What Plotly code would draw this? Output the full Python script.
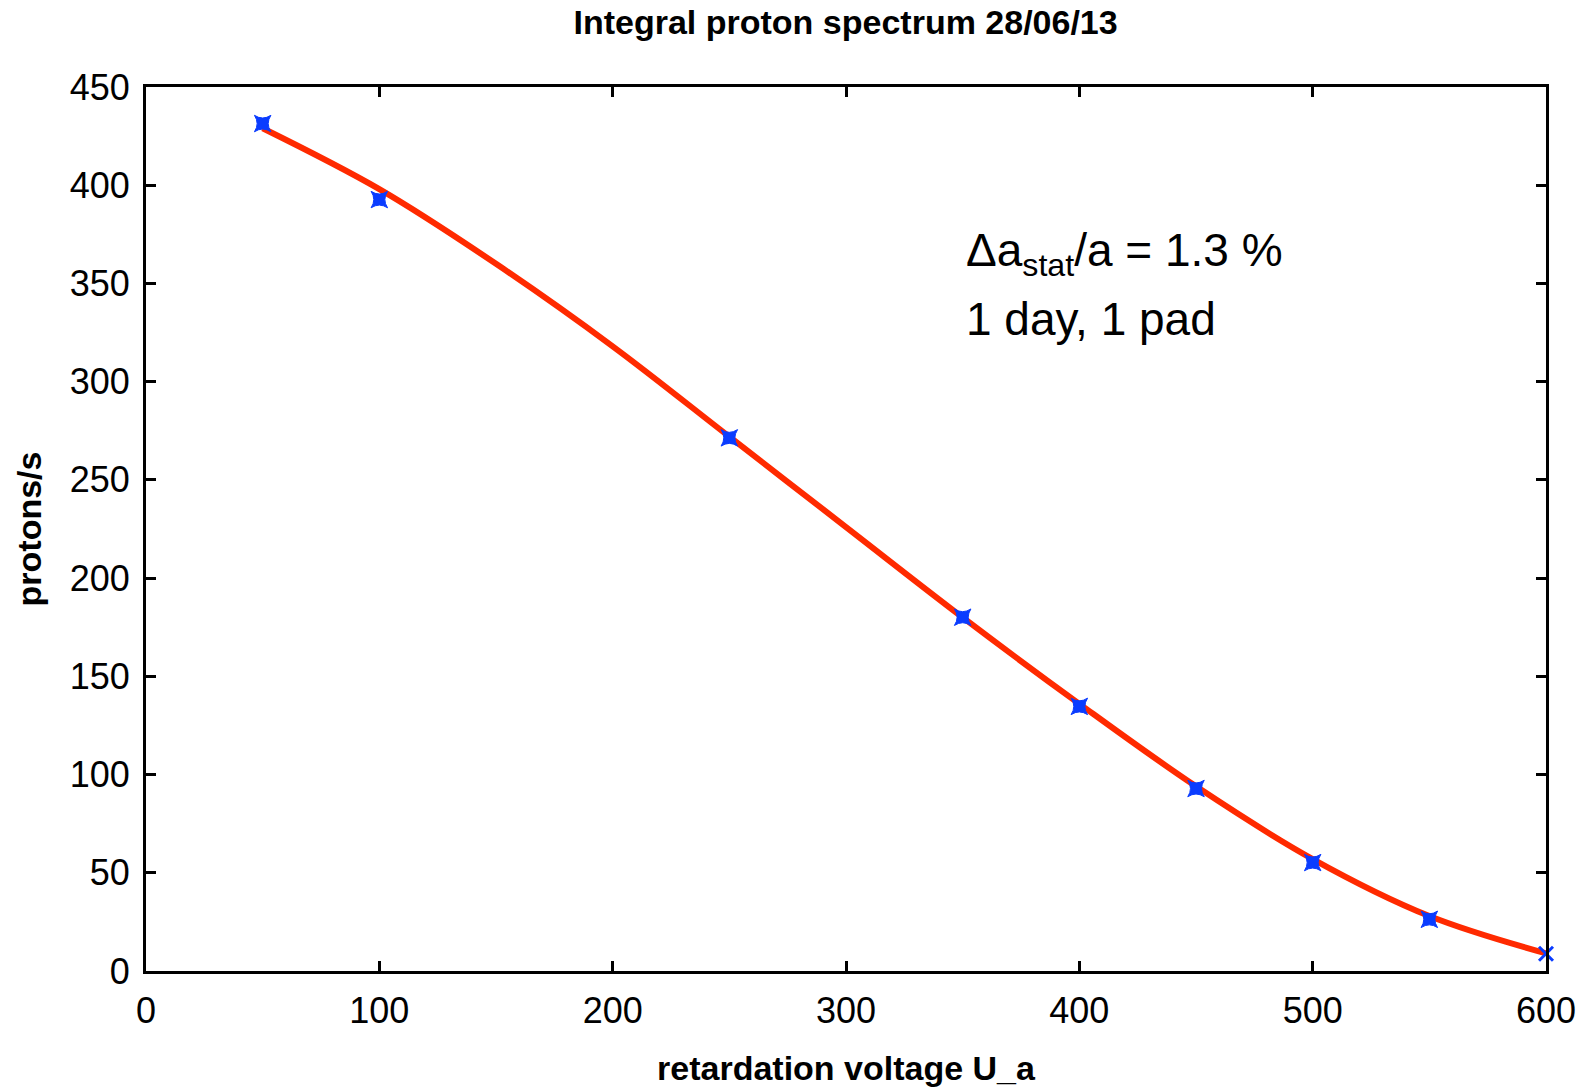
import plotly.graph_objects as go

# measured integral spectrum
voltage = [50, 100, 250, 350, 400, 450, 500, 550]
rate = [431.4, 392.7, 271.4, 180.1, 134.7, 92.9, 55.2, 26.3]

# last point (no error bar)
voltage_last = [600]
rate_last = [8.8]

# fitted curve
fit_voltage = [50, 100, 150, 200, 250, 300, 350, 400, 450, 500, 550, 600]
fit_rate = [429, 398, 360, 318, 272, 226, 180, 136, 94, 57, 28, 9]

x_ticks = [0, 100, 200, 300, 400, 500, 600]
y_ticks = [0, 50, 100, 150, 200, 250, 300, 350, 400, 450]

FONT = "Liberation Sans, Arial, Helvetica, sans-serif"

fig = go.Figure()
fig.add_trace(go.Scatter(
    x=fit_voltage, y=fit_rate, mode="lines",
    line=dict(color="#ff2a00", width=6, shape="spline", smoothing=1.0),
    hoverinfo="skip", showlegend=False, cliponaxis=False,
))
fig.add_trace(go.Scatter(
    x=voltage, y=rate, mode="markers",
    marker=dict(symbol="star-square", size=15, color="#0a3cff",
                line=dict(color="#0a3cff", width=1)),
    showlegend=False, cliponaxis=False,
))
fig.add_trace(go.Scatter(
    x=voltage_last, y=rate_last, mode="markers",
    marker=dict(symbol="x-thin", size=14, color="#0a3cff",
                line=dict(color="#0a3cff", width=3)),
    showlegend=False, cliponaxis=False,
))

axis_common = dict(
    showline=True, linecolor="black", linewidth=3, mirror="ticks",
    ticks="inside", ticklen=10, tickwidth=3, tickcolor="black",
    showgrid=False, zeroline=False, automargin=False,
    tickfont=dict(family=FONT, size=36, color="black"),
)

fig.update_layout(
    width=1588, height=1087,
    paper_bgcolor="white", plot_bgcolor="white",
    margin=dict(l=146, r=42, t=87, b=116),
    title=dict(text="<b>Integral proton spectrum 28/06/13</b>",
               font=dict(family=FONT, size=34, color="black"),
               x=0.5325, xanchor="center", y=0.98, yanchor="middle"),
    xaxis=dict(range=[0, 600], tickvals=x_ticks, ticklabelstandoff=6,
               title=dict(text="<b>retardation voltage U_a</b>",
                          font=dict(family=FONT, size=34, color="black"),
                          standoff=26),
               **axis_common),
    yaxis=dict(range=[0, 450], tickvals=y_ticks, ticklabelstandoff=6,
               title=dict(text="<b>protons/s</b>",
                          font=dict(family=FONT, size=34, color="black"),
                          standoff=18),
               **axis_common),
    annotations=[
        dict(x=350.6, y=365, xref="x", yref="y", xanchor="left", yanchor="middle",
             text="Δa<sub>stat</sub>/a = 1.3 %", showarrow=False,
             font=dict(family=FONT, size=46, color="black")),
        dict(x=350.6, y=332, xref="x", yref="y", xanchor="left", yanchor="middle",
             text="1 day, 1 pad", showarrow=False,
             font=dict(family=FONT, size=46, color="black")),
    ],
)

fig.write_html("out.html")
